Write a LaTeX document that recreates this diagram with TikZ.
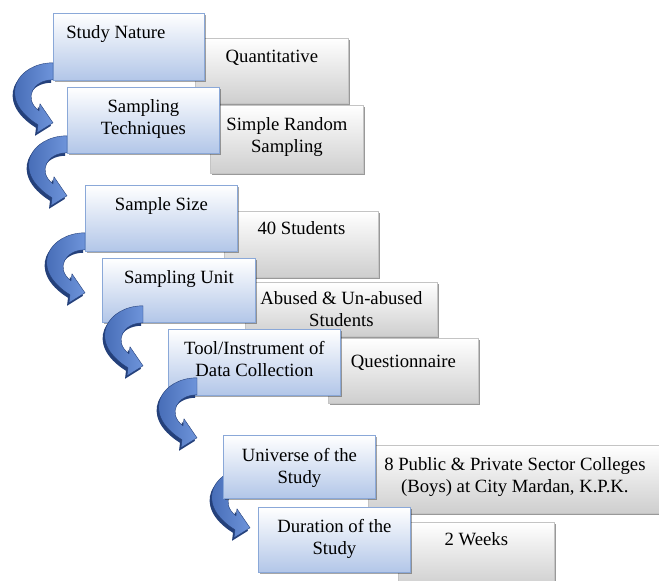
\documentclass[tikz,border=0pt]{standalone}
\usepackage{fontspec}
\setmainfont{Liberation Serif}
\usetikzlibrary{shadows,backgrounds,calc}
\definecolor{boxblue}{RGB}{178,198,232}
\definecolor{boxblueline}{RGB}{138,168,216}
\definecolor{boxgray}{RGB}{206,206,206}
\definecolor{boxgrayline}{RGB}{196,196,196}
\definecolor{arrowdark}{RGB}{52,90,166}
\definecolor{arrowlight}{RGB}{110,148,218}
\definecolor{arrowside}{RGB}{36,64,122}

\tikzset{
  bendarrow/.pic={
    \begin{scope}[shift={(-2,3)}]
      \fill[arrowside] (0,0) .. controls (-35,0) and (-58,35) .. (-15,62) -- (-16,70) -- (0,60) -- (-13,41) -- (-14,48) .. controls (-30,36) and (-20,17) .. (0,17) -- cycle;
    \end{scope}
    \shade[left color=arrowdark, right color=arrowlight, draw=arrowside, line width=0.4pt] (0,0) .. controls (-35,0) and (-58,35) .. (-15,62) -- (-16,70) -- (0,60) -- (-13,41) -- (-14,48) .. controls (-30,36) and (-20,17) .. (0,17) -- cycle;
  }
}

\begin{document}
\begin{tikzpicture}[x=1pt, y=-1pt,
  bluebox/.style={draw=boxblueline, line width=0.8pt, top color=white, bottom color=boxblue,
    anchor=north west, minimum width=152pt, minimum height=66pt, inner sep=0pt,
    drop shadow={shadow xshift=1.2pt, shadow yshift=-1.5pt, fill=black, opacity=0.35}},
  graybox/.style={draw=boxgrayline, line width=0.8pt, top color=white, bottom color=boxgray,
    anchor=north west, minimum width=153pt, minimum height=65pt, inner sep=0pt,
    drop shadow={shadow xshift=2pt, shadow yshift=-2pt, fill=black, opacity=0.4}},
  boxtext/.style={anchor=north, inner sep=0pt, yshift=-12pt, align=center,
    font=\fontsize{18.7}{22.5}\selectfont}]
\useasboundingbox (0,0) rectangle (659,581);
\clip (0,0) rectangle (659,581);

% answers
\node[graybox] (quant) at (195,38) {};
\node[graybox, minimum height=68pt] (random) at (210,105) {};
\node[graybox, minimum width=154pt, minimum height=66pt] (students) at (224,211) {};
\node[graybox, minimum width=192pt, minimum height=54pt] (abused) at (245,282) {};
\node[graybox, minimum width=150pt] (quest) at (328,338) {};
\node[graybox, minimum width=293pt, minimum height=68pt] (colleges) at (368,445) {};
\node[graybox, minimum width=156pt] (weeks) at (398,522) {};

\path (quant.north) node[boxtext] (quanttxt) {Quantitative};
\path (random.north) node[boxtext] (randomtxt) {Simple Random\\Sampling};
\path (students.north) node[boxtext, yshift=2pt] (studentstxt) {40 Students};
\path (abused.north) node[boxtext, yshift=3pt] (abusedtxt) {Abused \& Un-abused\\Students};
\path (quest.north) node[boxtext, yshift=-5pt] (questtxt) {Questionnaire};
\path (colleges.north) node[boxtext] (collegestxt) {8 Public \& Private Sector Colleges\\(Boys) at City Mardan, K.P.K.};
\path (weeks.north) node[boxtext, yshift=2pt] (weekstxt) {2 Weeks};

% steps
\node[bluebox, minimum width=151pt, minimum height=67pt] (nature) at (53,13) {};
\node[bluebox] (techniques) at (67,87) {};
\node[bluebox] (size) at (85,185) {};
\node[bluebox, minimum width=153pt, minimum height=64pt] (unit) at (102,258) {};
\node[bluebox, minimum width=172pt] (tool) at (168,329) {};
\node[bluebox, minimum height=63pt] (universe) at (223,435) {};
\node[bluebox, minimum height=65pt] (duration) at (258,507) {};

\path (nature.north) node[boxtext, xshift=-13pt] (naturetxt) {Study Nature};
\path (techniques.north) node[boxtext] (techniquestxt) {Sampling\\Techniques};
\path (size.north) node[boxtext] (sizetxt) {Sample Size};
\path (unit.north) node[boxtext] (unittxt) {Sampling Unit};
\path (tool.north) node[boxtext] (tooltxt) {Tool/Instrument of\\Data Collection};
\path (universe.north) node[boxtext, yshift=-1pt] (universetxt) {Universe of the\\Study};
\path (duration.north) node[boxtext] (durationtxt) {Duration of the\\Study};

% curved arrows
\pic at ($(nature.south west)+(0,-18)$) {bendarrow};
\pic at ($(techniques.south west)+(0,-18)$) {bendarrow};
\pic at ($(size.south west)+(0,-19)$) {bendarrow};
\pic at ($(unit.south west)+(41,-17)$) {bendarrow};
\pic at ($(tool.south west)+(29,-18)$) {bendarrow};
\begin{scope}[on background layer]
\pic at ($(universe.south west)+(27,-31)$) {bendarrow};
\end{scope}
\end{tikzpicture}
\end{document}
